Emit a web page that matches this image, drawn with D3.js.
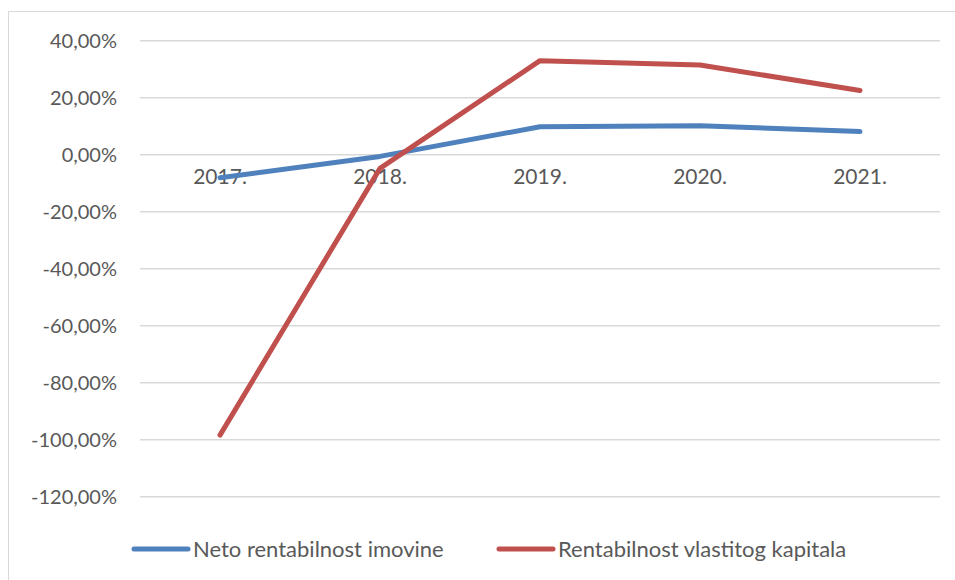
<!DOCTYPE html>
<html>
<head>
<meta charset="utf-8">
<script src="https://cdn.jsdelivr.net/npm/d3@7"></script>
<style>
  html, body { margin: 0; padding: 0; background: #fff; }
  svg { display: block; }
</style>
</head>
<body>
<svg id="chart" width="955" height="580"></svg>
<script>
const years = ["2017.", "2018.", "2019.", "2020.", "2021."];
const netoImovine = [-8.1, -0.6, 9.8, 10.2, 8.1];
const vlastitogKapitala = [-98.4, -4.8, 33.0, 31.5, 22.5];
const yTicks = [40, 20, 0, -20, -40, -60, -80, -100, -120];

const SERIES = [
  { name: "Neto rentabilnost imovine", values: netoImovine, color: "#4F81BD" },
  { name: "Rentabilnost vlastitog kapitala", values: vlastitogKapitala, color: "#C0504D" }
];

const FONT = "Lato, 'Open Sans', sans-serif";
const TEXT_FILL = "#595959";

const svg = d3.select("#chart");

// chart frame (only top/left edges fall inside the picture)
svg.append("rect")
  .attr("x", 8.5)
  .attr("y", 11.5)
  .attr("width", 960)
  .attr("height", 600)
  .attr("fill", "none")
  .attr("stroke", "#d9d9d9")
  .attr("stroke-width", 1);

const plot = { left: 140, right: 940, top: 40.7, bottom: 496.7 };

const x = d3.scaleBand()
  .domain(years)
  .range([plot.left, plot.right]);

const y = d3.scaleLinear()
  .domain([-120, 40])
  .range([plot.bottom, plot.top]);

// gridlines
svg.append("g")
  .selectAll("line")
  .data(yTicks)
  .join("line")
  .attr("x1", plot.left)
  .attr("x2", plot.right)
  .attr("y1", (d) => y(d))
  .attr("y2", (d) => y(d))
  .attr("stroke", "#d9d9d9")
  .attr("stroke-width", 1.5);

// excel style: comma decimal, plain hyphen for negatives
const fmt = (d) => d3.format(".2f")(d).replace(".", ",").replace("\u2212", "-") + "%";

// y axis labels
svg.append("g")
  .selectAll("text")
  .data(yTicks)
  .join("text")
  .attr("x", 117)
  .attr("y", (d) => y(d))
  .attr("dy", "0.35em")
  .attr("text-anchor", "end")
  .attr("font-family", FONT)
  .attr("font-size", 20)
  .attr("fill", TEXT_FILL)
  .text(fmt);

// x axis labels, sitting just under the zero line
svg.append("g")
  .selectAll("text")
  .data(years)
  .join("text")
  .attr("x", (d) => x(d) + x.bandwidth() / 2)
  .attr("y", y(0) + 29)
  .attr("text-anchor", "middle")
  .attr("font-family", FONT)
  .attr("font-size", 21)
  .attr("fill", TEXT_FILL)
  .text((d) => d);

const line = d3.line()
  .x((d, i) => x(years[i]) + x.bandwidth() / 2)
  .y((d) => y(d));

svg.append("g")
  .selectAll("path")
  .data(SERIES)
  .join("path")
  .attr("d", (d) => line(d.values))
  .attr("fill", "none")
  .attr("stroke", (d) => d.color)
  .attr("stroke-width", 5)
  .attr("stroke-linecap", "round")
  .attr("stroke-linejoin", "round");

// legend
const legendPos = [134, 499];
const legend = svg.append("g")
  .selectAll("g")
  .data(SERIES)
  .join("g")
  .attr("transform", (d, i) => `translate(${legendPos[i]},549)`);

legend.append("line")
  .attr("x1", 0)
  .attr("x2", 54)
  .attr("stroke", (d) => d.color)
  .attr("stroke-width", 5)
  .attr("stroke-linecap", "round");

legend.append("text")
  .attr("x", 59)
  .attr("dy", "0.35em")
  .attr("font-family", FONT)
  .attr("font-size", 22)
  .attr("fill", TEXT_FILL)
  .text((d) => d.name);
</script>
</body>
</html>
